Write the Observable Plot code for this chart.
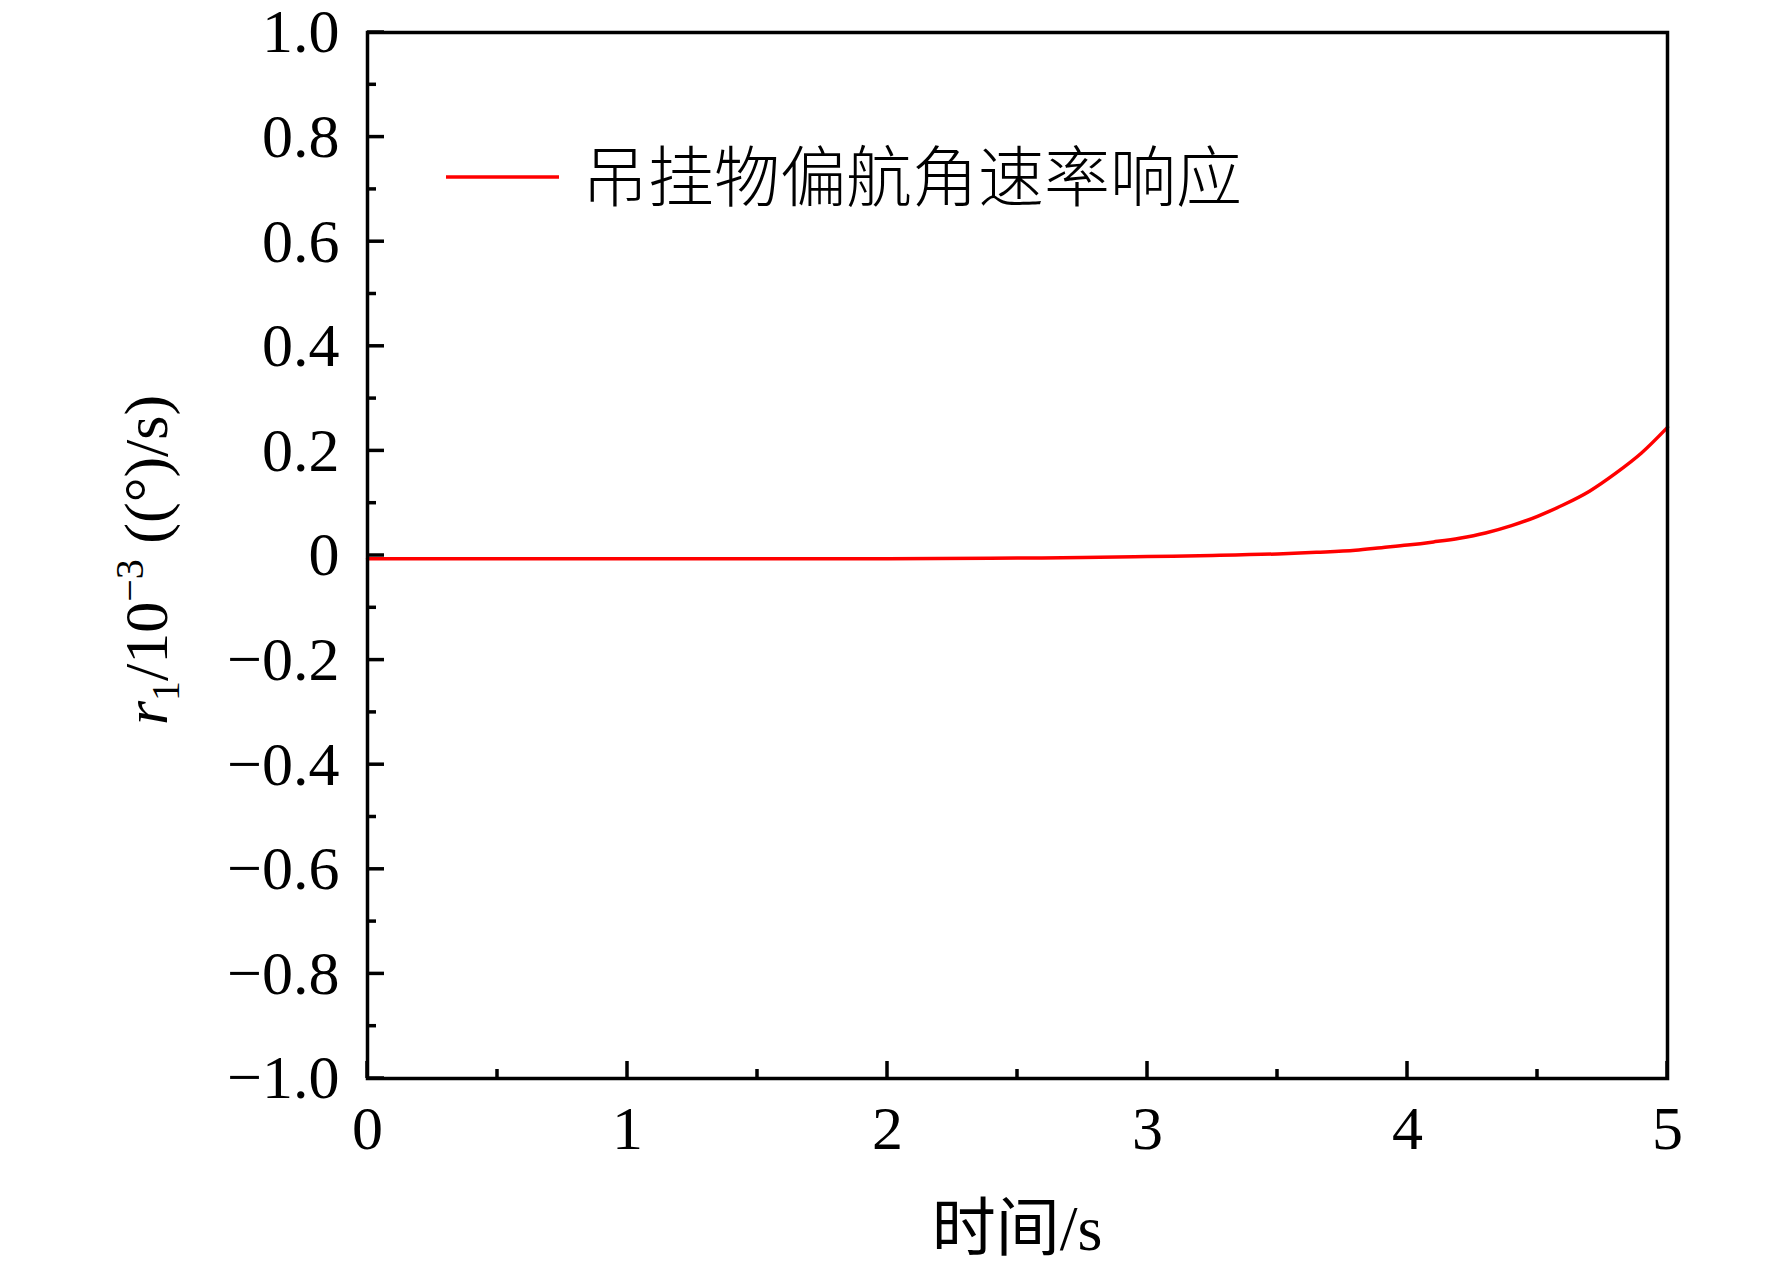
<!DOCTYPE html>
<html><head><meta charset="utf-8">
<script src="https://cdn.jsdelivr.net/npm/d3@7"></script>
<script src="https://cdn.jsdelivr.net/npm/@observablehq/plot@0.6"></script>
<style>body{margin:0;background:#fff}</style>
</head><body><div id="chart"></div>
<script>
const time    = [0, 0.5, 1, 1.5, 2, 2.5, 2.75, 3, 3.25, 3.5, 3.65, 3.8, 3.9, 4.0, 4.1, 4.2, 4.3, 4.4, 4.5, 4.6, 4.7, 4.8, 4.9, 5.0];
const yawRate = [-0.006, -0.006, -0.006, -0.006, -0.006, -0.005, -0.004, -0.002, 0.0, 0.003, 0.006, 0.010, 0.015, 0.020, 0.026, 0.033, 0.043, 0.057, 0.075, 0.097, 0.123, 0.157, 0.196, 0.245];
const yTicks = [-1, -0.8, -0.6, -0.4, -0.2, 0, 0.2, 0.4, 0.6, 0.8, 1];
const yMinorTicks = [-0.9, -0.7, -0.5, -0.3, -0.1, 0.1, 0.3, 0.5, 0.7, 0.9];
const xTicks = [0, 1, 2, 3, 4, 5];
const xMinorTicks = [0.5, 1.5, 2.5, 3.5, 4.5];
const seriesName = "吊挂物偏航角速率响应";
const xLabel = "时间/s";

const data = time.map((t, i) => ({t, r: yawRate[i]}));
const serif = "'Liberation Serif','Times New Roman','Noto Sans CJK SC',serif";
const fmtY = d => d === 0 ? "0" : d3.format(".1f")(d);

function inwardTicks() {
  return (index, scales, values, dims) => {
    const g = d3.create("svg:g").attr("stroke", "black").attr("stroke-width", 3.5);
    const {x, y} = scales;
    const L = dims.marginLeft, B = dims.height - dims.marginBottom;
    for (const v of yTicks) g.append("line").attr("x1", L).attr("x2", L + 17).attr("y1", y(v)).attr("y2", y(v));
    for (const v of yMinorTicks) g.append("line").attr("x1", L).attr("x2", L + 9).attr("y1", y(v)).attr("y2", y(v));
    for (const v of xTicks) g.append("line").attr("x1", x(v)).attr("x2", x(v)).attr("y1", B).attr("y2", B - 17);
    for (const v of xMinorTicks) g.append("line").attr("x1", x(v)).attr("x2", x(v)).attr("y1", B).attr("y2", B - 9);
    return g.node();
  };
}

function labelsAndLegend() {
  return (index, scales, values, dims) => {
    const g = d3.create("svg:g").attr("font-family", serif).attr("fill", "black");
    const L = dims.marginLeft, R = dims.width - dims.marginRight;
    const T = dims.marginTop, B = dims.height - dims.marginBottom;
    // x label
    g.append("text").attr("x", (L + R) / 2).attr("y", B + 172)
      .attr("text-anchor", "middle").attr("font-size", 64).text(xLabel);
    // y label
    const yl = g.append("text")
      .attr("transform", `translate(${L - 200},${(T + B) / 2 + 5}) rotate(-90)`)
      .attr("text-anchor", "middle").attr("font-size", 62);
    yl.append("tspan").attr("font-style", "italic").text("r");
    yl.append("tspan").attr("font-size", 40).attr("dy", 12).text("1");
    yl.append("tspan").attr("dy", -12).text("/10");
    yl.append("tspan").attr("font-size", 40).attr("dy", -24).text("\u22123");
    yl.append("tspan").attr("dy", 24).text(" ((°)/s)");
    // legend
    const ly = T + 145;
    g.append("line").attr("x1", L + 79).attr("x2", L + 192).attr("y1", ly).attr("y2", ly)
      .attr("stroke", "#ff0000").attr("stroke-width", 3.5);
    g.append("text").attr("x", L + 215).attr("y", ly).attr("dy", "0.36em")
      .attr("text-anchor", "start")
      .attr("font-family", "'Noto Sans CJK SC',sans-serif").attr("font-weight", 300)
      .attr("font-size", 66).text(seriesName);
    return g.node();
  };
}

const chart = Plot.plot({
  width: 1772,
  height: 1270,
  marginLeft: 367,
  marginRight: 105,
  marginTop: 32,
  marginBottom: 192,
  style: {fontFamily: serif, background: "white", color: "black"},
  x: {domain: [0, 5]},
  y: {domain: [-1, 1]},
  marks: [
    Plot.axisY(yTicks, {tickSize: 0, tickPadding: 28, fontSize: 62, tickFormat: fmtY, label: null}),
    Plot.axisX(xTicks, {tickSize: 0, tickPadding: 26, fontSize: 62, tickFormat: d => String(d), label: null}),
    Plot.line(data, {x: "t", y: "r", stroke: "#ff0000", strokeWidth: 3.5, curve: "monotone-x"}),
    inwardTicks(),
    Plot.frame({stroke: "black", strokeWidth: 3.5}),
    labelsAndLegend()
  ]
});
document.getElementById("chart").appendChild(chart);
</script>
</body></html>
